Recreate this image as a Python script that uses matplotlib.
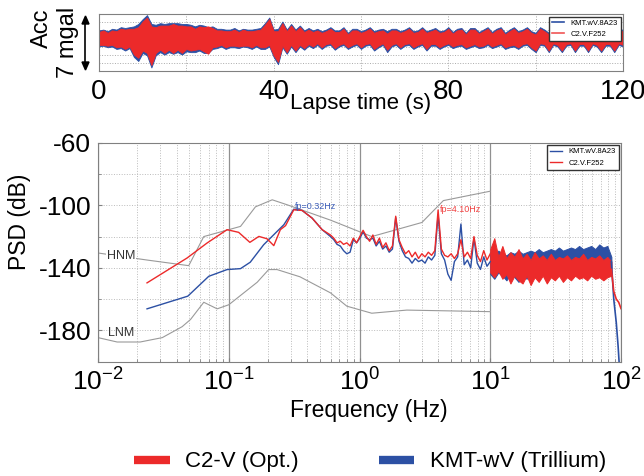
import numpy as np
import matplotlib.pyplot as plt
from matplotlib.lines import Line2D
from matplotlib.ticker import LogLocator, NullFormatter

plt.rcParams['font.family'] = ['Liberation Sans', 'DejaVu Sans']
plt.rcParams['axes.unicode_minus'] = False

RED = '#ec2a2a'
BLUE = '#2c50a4'
GRAY = '#9a9a9a'
FRAME = '#808080'

# ---- acceleration record, read per second: centre line and half widths (mgal) ----
t_sec = np.arange(121)
acc_mid = [0.0, 0.1, -0.1, 0.1, -0.1, 0.1, -0.1, 0.1, -0.4, -0.5,
           0.3, 0.4, -0.9, -0.2, 0.1, -0.1, 0.1, 0.0, 0.1, -0.1,
           0.1, 0.0, -0.1, 0.1, -0.1, -0.2, 0.1, 0.0, 0.1, -0.1,
           0.0, 0.1, -0.1, 0.1, 0.0, -0.1, 0.1, 0.0, 0.3, 0.8,
           -0.6, -1.0, 0.5, -0.4, 0.4, -0.3, 0.3, -0.2, 0.2, -0.1,
           0.2, -0.2, 0.1, 0.3, -0.2, 0.0, 0.3, -0.3, 0.1, 0.2,
           -0.2, 0.1, 0.3, -0.3, 0.0, 0.2, -0.4, 0.1, 0.2, -0.2,
           0.1, 0.3, -0.2, 0.0, 0.3, -0.3, 0.1, 0.2, -0.2, 0.0,
           0.3, -0.2, 0.1, 0.2, -0.3, 0.1, 0.2, -0.2, 0.0, 0.3,
           -0.2, 0.1, 0.3, -0.3, 0.0, 0.2, -0.2, 0.1, 0.3, -0.2,
           -0.5, 0.3, 0.1, -0.5, 0.3, 0.0, -0.5, 0.2, 0.2, -0.5,
           0.2, 0.1, -0.5, 0.3, 0.0, -0.5, 0.2, 0.1, -0.5, 0.3, 0.0]
acc_red_half = [0.8, 0.9, 0.8, 0.9, 1.0, 1.1, 1.2, 1.1, 1.6, 1.9,
                1.8, 2.2, 2.4, 1.6, 1.5, 1.7, 1.5, 1.8, 1.5, 1.7,
                1.4, 1.5, 1.3, 1.4, 1.5, 1.7, 1.2, 1.0, 0.9, 1.0,
                0.9, 1.0, 0.9, 1.0, 0.9, 1.0, 0.9, 1.1, 1.4, 1.6,
                1.5, 1.9, 1.4, 1.3, 1.2, 1.2, 1.1, 1.0, 0.9, 0.9,
                0.8, 0.9, 0.8, 0.9, 1.0, 0.8, 0.9, 0.8, 0.9, 0.8,
                0.9, 0.8, 0.9, 1.0, 0.9, 0.8, 1.0, 0.9, 0.8, 0.9,
                0.8, 0.9, 0.9, 0.8, 0.9, 1.0, 0.8, 0.9, 0.9, 0.8,
                0.9, 0.8, 0.9, 0.9, 0.8, 1.0, 0.9, 0.8, 0.9, 0.9,
                0.8, 0.9, 0.9, 0.8, 0.9, 1.0, 0.9, 0.8, 0.9, 0.9,
                1.0, 0.9, 0.8, 1.0, 0.9, 0.8, 1.0, 0.9, 0.8, 1.0,
                0.9, 0.8, 1.0, 0.9, 0.8, 1.0, 0.9, 0.8, 1.0, 0.9, 0.8]
acc_blue_half = [1.0, 1.0, 1.0, 1.1, 1.2, 1.3, 1.4, 1.3, 1.9, 2.3,
                 2.1, 2.5, 2.7, 1.9, 1.8, 1.9, 1.8, 1.9, 1.8, 1.9,
                 1.7, 1.7, 1.6, 1.6, 1.7, 1.6, 1.4, 1.2, 1.1, 1.2,
                 1.1, 1.2, 1.1, 1.1, 1.1, 1.2, 1.1, 1.3, 1.6, 1.8,
                 1.7, 2.2, 1.6, 1.5, 1.4, 1.4, 1.3, 1.2, 1.1, 1.1,
                 1.0, 1.1, 1.0, 1.1, 1.2, 1.0, 1.1, 1.0, 1.1, 1.0,
                 1.1, 1.0, 1.1, 1.2, 1.1, 1.0, 1.3, 1.1, 1.0, 1.1,
                 1.0, 1.1, 1.1, 1.0, 1.1, 1.2, 1.0, 1.1, 1.1, 1.0,
                 1.1, 1.0, 1.1, 1.1, 1.0, 1.2, 1.1, 1.0, 1.1, 1.1,
                 1.0, 1.1, 1.1, 1.0, 1.1, 1.2, 1.1, 1.0, 1.1, 1.1,
                 1.2, 1.1, 1.0, 1.2, 1.1, 1.0, 1.2, 1.1, 1.0, 1.2,
                 1.1, 1.0, 1.2, 1.1, 1.0, 1.2, 1.1, 1.0, 1.2, 1.1, 1.0]

# ---- noise models ----
hnm_f = [0.01, 0.0237, 0.0494, 0.0644, 0.123, 0.16, 0.215, 0.28, 0.6, 1.24, 3.0, 4.38, 10]
hnm_db = [-130.5, -135, -138.6, -120, -113.5, -101, -96.5, -99.7, -109.5, -120, -111, -97, -91]
lnm_f = [0.01, 0.014, 0.021, 0.031, 0.044, 0.051, 0.0644, 0.0815, 0.1, 0.165, 0.202,
         0.234, 0.35, 0.5, 0.6, 0.8, 1.24, 2.3, 10]
lnm_db = [-184.6, -187.4, -187.4, -184.6, -177.6, -173, -162, -166.2, -163.6, -149.2, -141.1,
          -141.1, -145.7, -152.5, -156, -164.5, -169, -167, -168]

# ---- PSD, low frequency part ----
kmt_low_f = [0.0237, 0.0486, 0.0703, 0.097, 0.123, 0.146, 0.185, 0.221, 0.264, 0.314,
             0.364, 0.434, 0.518]
kmt_low_db = [-166.2, -158.1, -145.4, -141.1, -140.5, -136.4, -125.2, -118.8, -112.4, -102.5,
              -103.3, -108.2, -115.6]
c2_low_f = [0.0237, 0.048, 0.0683, 0.097, 0.119, 0.145, 0.17, 0.196, 0.221, 0.248, 0.272,
            0.314, 0.364, 0.434, 0.518]
c2_low_db = [-149.6, -133.7, -124.1, -115.6, -117.3, -123.7, -119.9, -121.4, -125.8, -115.6, -113,
             -102.9, -103.3, -108.2, -115.6]

# ---- PSD, 0.6 - 10 Hz ----
mid_f = np.logspace(np.log10(0.6), 1, 50)
c2_mid_db = [-119, -121, -124, -123, -125, -124, -126, -121, -124, -120,
             -116, -120, -123, -119, -125, -121, -127, -124, -129, -126,
             -107, -122, -127, -131, -129, -133, -130, -134, -131, -133,
             -130, -132, -129, -103, -128, -132, -133, -131, -134, -131,
             -122, -133, -130, -134, -120, -132, -136, -129, -135, -131]
kmt_mid_db = [-120, -122, -125, -126, -129, -131, -130, -122, -124, -121,
              -117, -121, -122, -121, -126, -123, -128, -126, -130, -128,
              -108, -123, -129, -133, -134, -137, -134, -136, -135, -137,
              -133, -135, -132, -106, -131, -135, -144, -148, -136, -133,
              -112, -138, -135, -140, -121, -137, -141, -133, -139, -136]

# ---- PSD, 10 - 85 Hz band (upper / lower envelopes) ----
band_f = np.logspace(1, np.log10(84.4), 31)
c2_hi = [-128, -121, -133, -126, -134, -130, -133, -128, -134, -131, -135, -130, -134, -132, -135,
         -131, -135, -133, -134, -132, -135, -133, -134, -131, -135, -133, -134, -132, -135, -133, -136]
c2_lo = [-143, -146, -142, -147, -144, -150, -145, -148, -150, -145, -151, -146, -149, -145, -150,
         -146, -148, -145, -149, -146, -148, -145, -147, -146, -148, -145, -147, -146, -148, -146, -145]
kmt_hi = [-130, -131, -129, -131, -132, -130, -131, -129, -131, -130, -129, -130, -128, -130, -129,
          -128, -129, -127, -129, -128, -127, -128, -126, -128, -127, -126, -128, -125, -127, -126, -133]
kmt_lo = [-144, -147, -143, -145, -148, -144, -146, -149, -145, -147, -144, -146, -145, -144, -146,
          -143, -145, -144, -143, -145, -142, -144, -143, -142, -144, -143, -142, -144, -143, -142, -140]

# ---- roll-off near 100 Hz ----
c2_tail_f = [84.4, 88, 92, 96, 100]
c2_tail_db = [-141, -155, -160, -162, -166]
kmt_tail_f = [84.4, 88, 92, 95, 97]
kmt_tail_db = [-136, -160, -175, -190, -202]

fig = plt.figure(figsize=(6.44, 4.76), dpi=100)

# =================== top panel ===================
ax1 = fig.add_axes([0.1537, 0.8515, 0.8137, 0.1185])
mid = np.array(acc_mid)
rh = np.array(acc_red_half)
bh = np.array(acc_blue_half)
ax1.fill_between(t_sec, mid - bh, mid + bh, color=BLUE, lw=0.6)
ax1.fill_between(t_sec, mid - rh, mid + rh, color=RED, lw=0.6)
ax1.set_xlim(0, 120)
ax1.set_ylim(-4, 3)
ax1.set_xticks([0, 40, 80, 120])
ax1.set_xticks([20, 60, 100], minor=True)
ax1.set_yticks([-3, -2, -1, 0, 1, 2])
ax1.set_yticklabels([])
ax1.grid(True, which='both', ls=':', color='#aaaaaa', lw=0.7)
ax1.set_axisbelow(True)
ax1.tick_params(axis='x', which='both', length=0, labelsize=20, pad=6)
ax1.tick_params(axis='y', length=0)
for s in ax1.spines.values():
    s.set_color(FRAME)
ax1.legend([Line2D([], [], color=BLUE, lw=1.2), Line2D([], [], color=RED, lw=1.2, alpha=0.8)],
           ['KMT.wV.8A23', 'C2.V.F252'], loc='upper right', fontsize=5.5, fancybox=False,
           framealpha=1, edgecolor='#333333', handlelength=1.6, borderaxespad=0.3)

fig.text(361 / 644, 1 - 104 / 476, 'Lapse time (s)', ha='center', va='center', fontsize=16)
fig.text(42 / 644, 1 - 28 / 476, 'Acc', ha='center', va='center', rotation=90, fontsize=17)
fig.text(68 / 644, 1 - 42 / 476, '7 mgal', ha='center', va='center', rotation=90, fontsize=17)
fig.add_artist(plt.Line2D([85.5 / 644, 85.5 / 644], [1 - 22 / 476, 1 - 64 / 476], color='k', lw=1.2))
fig.patches.append(plt.Polygon([[82 / 644, 1 - 24 / 476], [89 / 644, 1 - 24 / 476], [85.5 / 644, 1 - 16 / 476]],
                               closed=True, color='k', transform=fig.transFigure, figure=fig))
fig.patches.append(plt.Polygon([[82 / 644, 1 - 62 / 476], [89 / 644, 1 - 62 / 476], [85.5 / 644, 1 - 70 / 476]],
                               closed=True, color='k', transform=fig.transFigure, figure=fig))

# =================== PSD panel ===================
ax2 = fig.add_axes([0.1522, 0.2401, 0.8121, 0.4601])
ax2.set_xscale('log')
ax2.plot(hnm_f, hnm_db, color=GRAY, lw=0.8)
ax2.plot(lnm_f, lnm_db, color=GRAY, lw=0.8)

ax2.plot(np.concatenate([kmt_low_f, mid_f]), np.concatenate([kmt_low_db, kmt_mid_db]), color=BLUE, lw=1.0)
ax2.fill_between(band_f, kmt_lo, kmt_hi, color=BLUE, lw=0.7)
ax2.plot(kmt_tail_f, kmt_tail_db, color=BLUE, lw=1.2)

ax2.plot(np.concatenate([c2_low_f, mid_f]), np.concatenate([c2_low_db, c2_mid_db]), color=RED, lw=1.0)
ax2.fill_between(band_f, c2_lo, c2_hi, color=RED, lw=0.7)
ax2.plot(c2_tail_f, c2_tail_db, color=RED, lw=1.2)

ax2.text(0.015, -132.6, 'HNM', ha='center', va='center', fontsize=9, color='#333333',
         bbox=dict(fc='white', ec='none', pad=0.6))
ax2.text(0.015, -181.4, 'LNM', ha='center', va='center', fontsize=9, color='#333333')
ax2.text(0.32, -101, 'fp=0.32Hz', fontsize=6.5, color='#3a5cb8', va='center')
ax2.text(4.14, -102.4, 'fp=4.10Hz', fontsize=6.5, color='#f04040', va='center')

ax2.set_xlim(0.01, 100)
ax2.set_ylim(-200, -60)
ax2.set_yticks([-180, -140, -100, -60])
ax2.set_yticks([-200, -160, -120, -80], minor=True)
ax2.xaxis.set_minor_locator(LogLocator(base=10, subs=np.arange(2, 10)))
ax2.xaxis.set_minor_formatter(NullFormatter())
ax2.xaxis.grid(True, which='major', ls='-', color='#909090', lw=0.9)
ax2.xaxis.grid(True, which='minor', ls=':', color='#bbbbbb', lw=0.7)
ax2.yaxis.grid(True, which='both', ls=':', color='#bbbbbb', lw=0.7)
ax2.set_axisbelow(True)
ax2.tick_params(which='both', direction='in', color=FRAME, labelsize=19)
ax2.tick_params(which='major', length=3, pad=5)
ax2.tick_params(which='minor', length=2)
for s in ax2.spines.values():
    s.set_color(FRAME)
ax2.legend([Line2D([], [], color=BLUE, lw=1.0), Line2D([], [], color=RED, lw=1.0)],
           ['KMT.wV.8A23', 'C2.V.F252'], loc='upper right', fontsize=5.5, fancybox=False,
           framealpha=1, edgecolor='#333333', handlelength=1.6, borderaxespad=0.3)

fig.text(369 / 644, 1 - 411 / 476, 'Frequency (Hz)', ha='center', va='center', fontsize=16.5)
fig.text(20 / 644, 1 - 222 / 476, 'PSD (dB)', ha='center', va='center', rotation=90, fontsize=16.5)

fig.legend([Line2D([], [], color=RED, lw=6, solid_capstyle='butt'),
            Line2D([], [], color=BLUE, lw=6, solid_capstyle='butt')],
           ['C2-V (Opt.)', 'KMT-wV (Trillium)'], ncol=2, loc='center',
           bbox_to_anchor=(370 / 644, 1 - 462 / 476), frameon=False, fontsize=16,
           handlelength=1.6, handletextpad=0.7, columnspacing=3.6)

fig.savefig('out.png', dpi=100)
